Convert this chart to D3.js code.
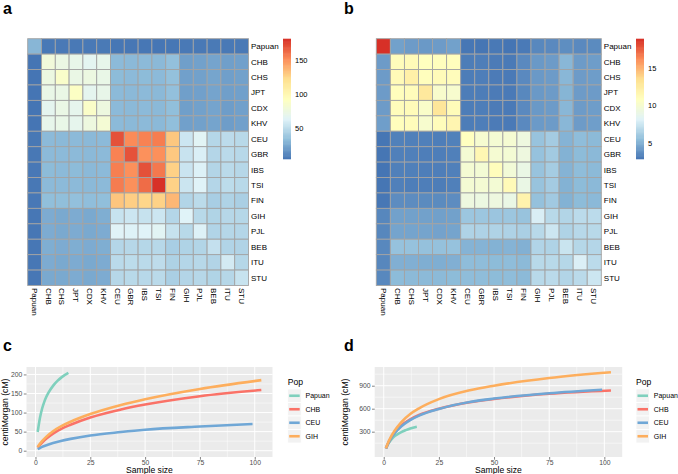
<!DOCTYPE html>
<html><head><meta charset="utf-8">
<script src="https://cdn.jsdelivr.net/npm/d3@7"></script>
<style>
html,body{margin:0;padding:0;background:#fff;}
svg{display:block;font-family:"Liberation Sans",Arial,Helvetica,sans-serif;}
</style></head>
<body>
<svg id="chart" width="678" height="474"></svg>
<script>
// ---------- DATA ----------
const pops = ["Papuan","CHB","CHS","JPT","CDX","KHV","CEU","GBR","IBS","TSI","FIN","GIH","PJL","BEB","ITU","STU"];

const heatA = [
  [30.3, 6.0, 6.2, 6.1, 6.1, 6.3, 5.3, 5.1, 5.2, 5.0, 5.4, 6.0, 6.1, 6.3, 6.0, 6.1],
  [4.45, 79, 74, 71, 67, 70, 32, 31.5, 32, 31.5, 34.5, 21, 22, 23, 21, 21.5],
  [4.5, 75, 87, 73, 75, 72, 32.5, 32, 32.5, 32, 35, 21.5, 22, 23.5, 21, 22],
  [4.5, 72, 73, 90, 68, 71, 32, 31.5, 32, 31.5, 34.5, 21, 21.5, 23, 21, 21.5],
  [4.55, 68, 73, 69, 88, 76, 32, 31.5, 32, 31.5, 34, 21, 22, 23, 20.5, 21.5],
  [4.6, 70, 72, 69, 76, 82, 32, 31.5, 32, 31.5, 34, 21.5, 22, 23, 20.5, 21.5],
  [5.5, 32, 31.5, 32, 31.5, 32, 170.6, 152, 155, 156.5, 131, 55.9, 64.8, 47.3, 49.8, 48.3],
  [5.5, 32, 32, 32, 31.5, 32, 155, 170, 150, 150.5, 130.5, 54.4, 61, 47, 49, 48],
  [5.6, 32.5, 32, 32.5, 31.5, 32, 156, 150.5, 170.6, 158, 127.5, 55, 62, 46.5, 49, 47.5],
  [5.5, 32, 32, 32, 31.5, 32, 157, 150.5, 162, 180.9, 127, 55.5, 63.5, 47, 50, 48.5],
  [5.6, 34, 34, 34.5, 33.5, 34, 131.5, 128.5, 125.5, 127, 136.5, 46.3, 49.5, 42.5, 45, 43],
  [5.2, 26, 25, 26, 25, 27, 54, 56, 53.5, 56, 47, 63.5, 48.3, 45.5, 47.5, 47.3],
  [5.2, 26, 25, 26, 25, 26, 64, 62.5, 63.5, 65.5, 53.5, 48.5, 62, 45.8, 47.3, 47],
  [5.3, 27, 26, 27, 26, 27, 47, 47.5, 47.3, 48, 42.5, 45, 46.3, 52.7, 45.8, 45.3],
  [5.2, 26, 25, 26, 25, 26, 49, 50, 49, 50.5, 44.5, 47, 48, 46, 58.4, 47.3],
  [5.2, 25, 25, 26, 25, 26, 47.5, 48.5, 48, 49, 43, 46.5, 47.5, 45.5, 47.5, 54]
];
const heatB = [
  [18.85, 4.5, 4.3, 4.2, 4.3, 4.5, 3.0, 2.95, 3.05, 2.92, 3.1, 3.6, 3.65, 3.8, 3.65, 3.7],
  [4.3, 11.1, 11.3, 10.9, 11.0, 11.0, 3.2, 3.25, 3.15, 3.1, 3.65, 4.2, 4.3, 5.3, 4.3, 4.35],
  [4.3, 11.3, 12.2, 11.0, 11.2, 11.1, 3.2, 3.25, 3.15, 3.1, 3.65, 4.2, 4.3, 5.3, 4.3, 4.35],
  [4.3, 11.0, 11.1, 12.8, 10.3, 10.2, 3.2, 3.2, 3.15, 3.1, 3.6, 4.2, 4.3, 5.2, 4.3, 4.3],
  [4.3, 11.1, 11.2, 10.4, 13.0, 11.2, 3.2, 3.25, 3.15, 3.1, 3.65, 4.2, 4.3, 5.3, 4.3, 4.35],
  [4.4, 11.0, 11.1, 10.2, 11.1, 11.7, 3.2, 3.25, 3.15, 3.1, 3.65, 4.25, 4.3, 5.3, 4.3, 4.4],
  [2.95, 3.35, 3.3, 3.3, 3.25, 3.35, 10.85, 10.1, 9.95, 10.0, 9.4, 5.8, 6.2, 5.15, 5.5, 5.4],
  [2.95, 3.3, 3.3, 3.25, 3.25, 3.3, 9.95, 11.55, 10.0, 9.9, 9.4, 5.75, 6.15, 5.1, 5.45, 5.35],
  [2.93, 3.3, 3.3, 3.25, 3.25, 3.3, 9.95, 9.9, 11.05, 9.75, 9.1, 5.8, 6.25, 5.15, 5.5, 5.4],
  [2.95, 3.3, 3.25, 3.25, 3.2, 3.3, 9.95, 9.95, 9.9, 11.3, 9.1, 5.8, 6.2, 5.1, 5.45, 5.35],
  [3.0, 3.75, 3.75, 3.7, 3.7, 3.75, 9.4, 9.3, 9.4, 9.1, 11.9, 5.7, 6.1, 5.1, 5.45, 5.35],
  [3.55, 4.5, 4.5, 4.5, 4.45, 4.5, 5.95, 5.95, 5.9, 5.95, 5.8, 8.0, 6.9, 6.7, 7.0, 7.0],
  [3.55, 4.6, 4.6, 4.6, 4.55, 4.6, 6.58, 6.55, 6.6, 6.55, 6.4, 6.9, 7.55, 6.6, 6.85, 6.9],
  [3.6, 5.75, 5.75, 5.7, 5.7, 5.75, 5.15, 5.15, 5.1, 5.15, 5.05, 6.65, 6.6, 7.45, 6.8, 6.75],
  [3.55, 5.0, 5.0, 4.95, 4.95, 5.0, 5.5, 5.5, 5.45, 5.5, 5.4, 6.9, 6.9, 6.8, 8.05, 7.0],
  [3.6, 5.45, 5.4, 5.4, 5.4, 5.45, 5.5, 5.5, 5.45, 5.5, 5.4, 6.9, 6.95, 6.7, 6.95, 7.55]
];
const legendTicksA = [50, 100, 150];
const legendTicksB = [5, 10, 15];

// line charts: sample sizes and centiMorgan values
const seriesNames = ["Papuan","CHB","CEU","GIH"];
const xsPapuan = [1, 2, 3, 4, 5, 6, 8, 10, 12, 15];
const xsCHB    = [1, 2, 3, 5, 8, 12, 16, 25, 39, 50, 75, 103];
const xsCEU    = [1, 2, 3, 5, 8, 12, 16, 25, 39, 50, 75, 99];
const xsGIH    = [1, 2, 3, 5, 8, 12, 16, 25, 39, 50, 75, 103];

const cmPapuanC = [49, 85, 110, 128, 142, 153, 170, 183, 193, 204];
const cmCHBC    = [8, 15, 21, 32, 45, 58, 68, 87, 108, 121, 143, 159];
const cmCEUC    = [4, 7, 10, 14.5, 20, 26, 31, 40, 49, 55, 63.5, 70];
const cmGIHC    = [10, 18, 25, 37, 51, 65, 76, 96, 120, 135, 162, 185];

const cmPapuanD = [80, 140, 183, 217, 243, 263, 295, 320, 342, 365];
const cmCHBD    = [80, 150, 205, 290, 382, 462, 518, 600, 685, 727, 795, 838];
const cmCEUD    = [80, 147, 200, 283, 372, 452, 510, 597, 688, 732, 802, 848];
const cmGIHD    = [85, 160, 220, 315, 425, 530, 605, 725, 840, 900, 1000, 1075];

const xTicks = [0, 25, 50, 75, 100];
const yTicksC = [0, 50, 100, 150, 200];
const yTicksD = [300, 600, 900];

// ---------- STYLE ----------
const palette = ["#4575B4","#91BFDB","#E0F3F8","#FFFFBF","#FEE090","#FC8D59","#D73027"];
const lineColors = {Papuan:"#7fd0bd", CHB:"#fa7267", CEU:"#6fa7d6", GIH:"#fdae5d"};

const svg = d3.select("#chart");

// ---------- HEATMAPS ----------
function heatmap(mat, x0, x1, y0, y1, cbX, ticks) {
  const g = svg.append("g");
  const flat = mat.flat();
  const ext = d3.extent(flat);
  const stops = palette.map((c, i) => ext[0] + (ext[1] - ext[0]) * i / (palette.length - 1));
  const color = d3.scaleLinear().domain(stops).range(palette).interpolate(d3.interpolateRgb);
  const xs = d3.scaleBand().domain(pops).range([x0, x1]);
  const ys = d3.scaleBand().domain(pops).range([y0, y1]);
  const cells = [];
  mat.forEach((row, i) => row.forEach((v, j) => cells.push({r: pops[i], c: pops[j], v})));
  g.selectAll("rect.cell").data(cells).enter().append("rect")
    .attr("class", "cell")
    .attr("x", d => xs(d.c)).attr("y", d => ys(d.r))
    .attr("width", xs.bandwidth()).attr("height", ys.bandwidth())
    .attr("fill", d => color(d.v))
    .attr("stroke", "#a3a3a3").attr("stroke-width", 0.9);
  g.selectAll("text.row").data(pops).enter().append("text")
    .attr("x", x1 + 2.5).attr("y", d => ys(d) + ys.bandwidth() / 2)
    .attr("dy", "0.35em").attr("font-size", 8).attr("fill", "#000").text(d => d);
  g.selectAll("text.col").data(pops).enter().append("text")
    .attr("transform", d => `translate(${xs(d) + xs.bandwidth() / 2 - 2.8},${y1 + 2.5}) rotate(90)`)
    .attr("font-size", 8).attr("fill", "#000").text(d => d);
  const cbTop = 39, cbBot = 159, cbW = 8;
  const cy = d3.scaleLinear().domain(ext).range([cbBot, cbTop]);
  const n = 100;
  const steps = d3.range(n).map(i => ext[0] + (ext[1] - ext[0]) * (i + 0.5) / n);
  const h = (cbBot - cbTop) / n;
  g.selectAll("rect.cb").data(steps).enter().append("rect")
    .attr("x", cbX).attr("width", cbW)
    .attr("y", d => cy(d) - h / 2 - 0.3).attr("height", h + 0.6)
    .attr("fill", d => color(d));
  g.selectAll("text.cbt").data(ticks).enter().append("text")
    .attr("x", cbX + cbW + 4).attr("y", d => cy(d)).attr("dy", "0.35em")
    .attr("font-size", 7.5).attr("fill", "#000").text(d => d);
}
heatmap(heatA, 27.7, 248.5, 38.7, 285.5, 283, legendTicksA);
heatmap(heatB, 376.3, 601.3, 38.7, 285.5, 636, legendTicksB);

// ---------- LINE CHARTS ----------
function lineChart(opts) {
  const {x0, x1, y0, y1, yDom, yTicks, yMinor, data, legX, titleX} = opts;
  const g = svg.append("g");
  const x = d3.scaleLinear().domain([-4.1, 108.1]).range([x0, x1]);
  const y = d3.scaleLinear().domain(yDom).range([y1, y0]);
  g.append("rect").attr("x", x0).attr("y", y0).attr("width", x1 - x0).attr("height", y1 - y0).attr("fill", "#EBEBEB");
  const xMinor = [12.5, 37.5, 62.5, 87.5];
  g.selectAll("line.xmin").data(xMinor).enter().append("line")
    .attr("x1", d => x(d)).attr("x2", d => x(d)).attr("y1", y0).attr("y2", y1)
    .attr("stroke", "#fff").attr("stroke-width", 0.5);
  g.selectAll("line.ymin").data(yMinor).enter().append("line")
    .attr("y1", d => y(d)).attr("y2", d => y(d)).attr("x1", x0).attr("x2", x1)
    .attr("stroke", "#fff").attr("stroke-width", 0.5);
  g.selectAll("line.xmaj").data(xTicks).enter().append("line")
    .attr("x1", d => x(d)).attr("x2", d => x(d)).attr("y1", y0).attr("y2", y1)
    .attr("stroke", "#fff").attr("stroke-width", 1);
  g.selectAll("line.ymaj").data(yTicks).enter().append("line")
    .attr("y1", d => y(d)).attr("y2", d => y(d)).attr("x1", x0).attr("x2", x1)
    .attr("stroke", "#fff").attr("stroke-width", 1);
  const line = d3.line().x(d => x(d[0])).y(d => y(d[1])).curve(d3.curveMonotoneX);
  data.forEach(s => {
    g.append("path").attr("d", line(s.xs.map((v, i) => [v, s.ys[i]])))
      .attr("fill", "none").attr("stroke", lineColors[s.name]).attr("stroke-width", 2.6)
      .attr("stroke-linecap", "butt");
  });
  const xa = g.append("g").attr("transform", `translate(0,${y1})`)
    .call(d3.axisBottom(x).tickValues(xTicks).tickSize(2.7).tickPadding(0.6));
  const ya = g.append("g").attr("transform", `translate(${x0},0)`)
    .call(d3.axisLeft(y).tickValues(yTicks).tickSize(2.7).tickPadding(1.5));
  [xa, ya].forEach(a => {
    a.select(".domain").remove();
    a.selectAll(".tick line").attr("stroke", "#333").attr("stroke-width", 0.6);
    a.selectAll(".tick text").attr("fill", "#4d4d4d").attr("font-size", 6.8)
      .attr("font-family", "Liberation Sans, Arial, sans-serif");
  });
  g.append("text").attr("x", (x0 + x1) / 2).attr("y", 473.3).attr("text-anchor", "middle")
    .attr("font-size", 8.6).attr("fill", "#000").text("Sample size");
  g.append("text").attr("transform", `translate(${titleX},${(y0 + y1) / 2}) rotate(-90)`)
    .attr("text-anchor", "middle").attr("font-size", 8.6).attr("fill", "#000").text("centiMorgan (cM)");
  g.append("text").attr("x", legX).attr("y", 385).attr("font-size", 8.6).attr("fill", "#000").text("Pop");
  const keyH = 13.5, keyTop = 389;
  seriesNames.forEach((nm, i) => {
    const ky = keyTop + i * keyH;
    g.append("rect").attr("x", legX).attr("y", ky).attr("width", keyH).attr("height", keyH)
      .attr("fill", "#F2F2F2").attr("stroke", "#fff").attr("stroke-width", 0.8);
    g.append("line").attr("x1", legX + 1.5).attr("x2", legX + keyH - 1.5)
      .attr("y1", ky + keyH / 2).attr("y2", ky + keyH / 2)
      .attr("stroke", lineColors[nm]).attr("stroke-width", 2.6);
    g.append("text").attr("x", legX + keyH + 4.3).attr("y", ky + keyH / 2).attr("dy", "0.35em")
      .attr("font-size", 7).attr("fill", "#000").text(nm);
  });
}

lineChart({x0: 26.5, x1: 272.5, y0: 367, y1: 457, yDom: [-16.5, 219.5], yTicks: yTicksC,
  yMinor: [25, 75, 125, 175],
  data: [
    {name: "Papuan", xs: xsPapuan, ys: cmPapuanC},
    {name: "CHB", xs: xsCHB, ys: cmCHBC},
    {name: "CEU", xs: xsCEU, ys: cmCEUC},
    {name: "GIH", xs: xsGIH, ys: cmGIHC}],
  legX: 287.7, titleX: 8});

lineChart({x0: 374.7, x1: 622.2, y0: 367, y1: 457, yDom: [-30, 1144], yTicks: yTicksD,
  yMinor: [150, 450, 750, 1050],
  data: [
    {name: "Papuan", xs: xsPapuan, ys: cmPapuanD},
    {name: "CHB", xs: xsCHB, ys: cmCHBD},
    {name: "CEU", xs: xsCEU, ys: cmCEUD},
    {name: "GIH", xs: xsGIH, ys: cmGIHD}],
  legX: 636, titleX: 348});

// ---------- PANEL LETTERS ----------
const letters = [{t: "a", x: 3, y: 14}, {t: "b", x: 344, y: 14}, {t: "c", x: 3, y: 351}, {t: "d", x: 344, y: 351}];
svg.selectAll("text.letter").data(letters).enter().append("text")
  .attr("x", d => d.x).attr("y", d => d.y).attr("font-size", 16).attr("font-weight", "bold")
  .attr("fill", "#000").text(d => d.t);
</script>
</body></html>
